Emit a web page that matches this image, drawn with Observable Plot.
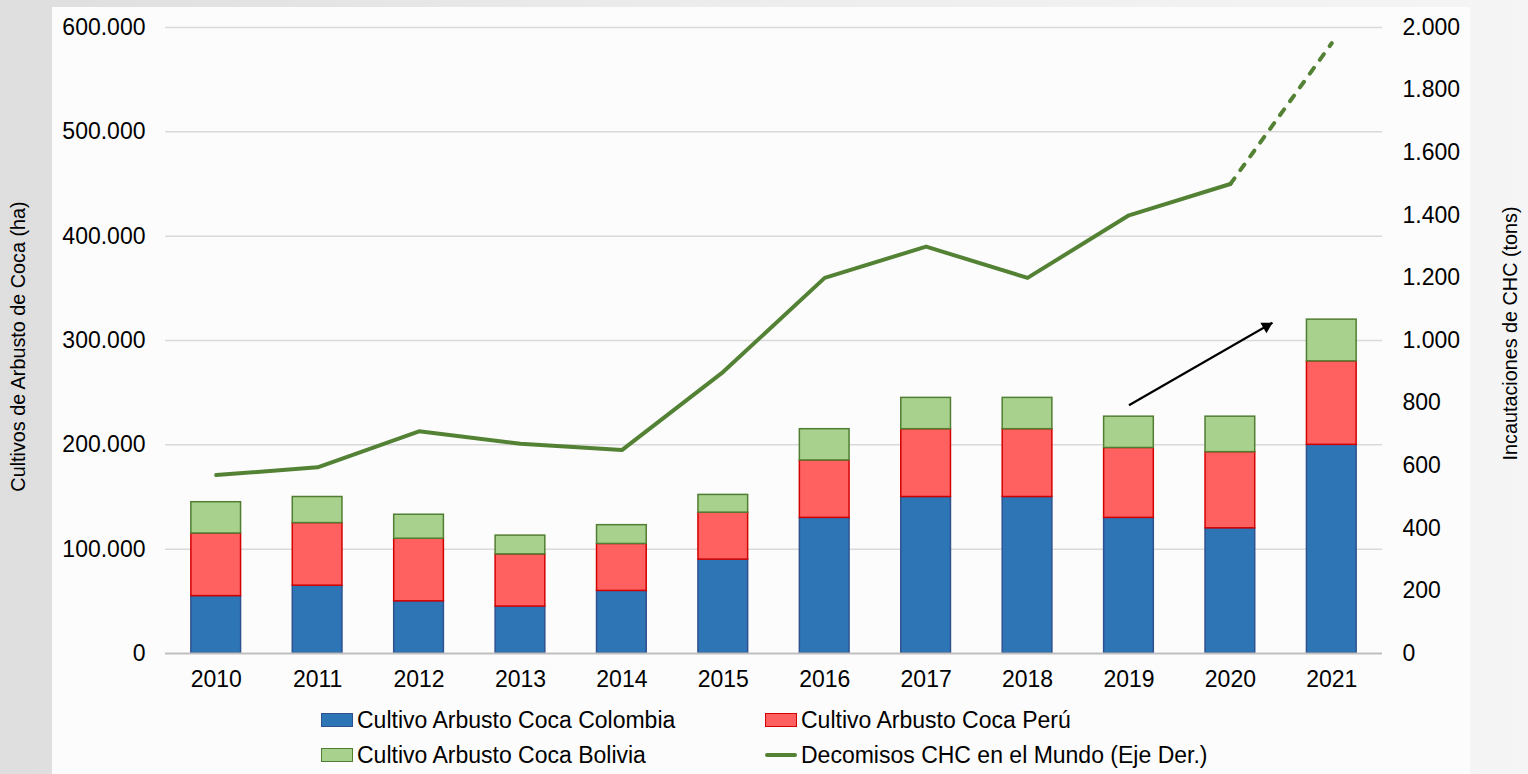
<!DOCTYPE html>
<html>
<head>
<meta charset="utf-8">
<script src="https://cdn.jsdelivr.net/npm/d3@7"></script>
<script src="https://cdn.jsdelivr.net/npm/@observablehq/plot@0.6"></script>
<style>
  html, body { margin: 0; padding: 0; }
  body {
    width: 1528px; height: 774px; overflow: hidden; position: relative;
    background: linear-gradient(90deg, #dedede 0%, #ececec 45%, #f5f5f5 100%);
    font-family: "Liberation Sans", Arial, sans-serif;
  }
  #panel { position: absolute; left: 52px; top: 7px; width: 1418px; height: 780px; background: #fcfcfc; }
  #chart { position: absolute; left: 0; top: 0; }
  #legend { position: absolute; left: 321px; top: 707px; display: grid; grid-template-columns: 444px 444px; row-gap: 9px; font-size: 23px; color: #000; }
  .item { display: flex; align-items: center; height: 26px; white-space: nowrap; }
  .sw { width: 30px; height: 12px; margin-right: 4px; border-width: 1.5px; border-style: solid; }
  .ln { width: 32px; height: 4px; margin-right: 4px; border-radius: 2px; }
</style>
</head>
<body>
<div id="panel"></div>
<div id="chart"></div>
<div id="legend"></div>
<script>
// ---- data ----
const years = [2010, 2011, 2012, 2013, 2014, 2015, 2016, 2017, 2018, 2019, 2020, 2021];
const colombia = [55000, 65000, 50000, 45000, 60000, 90000, 130000, 150000, 150000, 130000, 120000, 200000];
const peru     = [60000, 60000, 60000, 50000, 45000, 45000, 55000, 65000, 65000, 67000, 73000, 80000];
const bolivia  = [30000, 25000, 23000, 18000, 18000, 17000, 30000, 30000, 30000, 30000, 34000, 40000];
const decomisos = [570, 595, 710, 670, 650, 900, 1200, 1300, 1200, 1400, 1500, 1950]; // tons (right axis)
const leftTicks = [0, 100000, 200000, 300000, 400000, 500000, 600000];
const rightTicks = [0, 200, 400, 600, 800, 1000, 1200, 1400, 1600, 1800, 2000];
const seriesNames = ["Cultivo Arbusto Coca Colombia", "Cultivo Arbusto Coca Perú", "Cultivo Arbusto Coca Bolivia", "Decomisos CHC en el Mundo (Eje Der.)"];
const axisTitles = ["Cultivos de Arbusto de Coca (ha)", "Incautaciones de CHC (tons)"];
const arrowFrom = {year: 2019, value: 238000};
const arrowTo = {year: 2020.415, value: 317000};

// ---- styles ----
const fills = ["#2E75B6", "#FF6161", "#A9D18E"];
const strokes = ["#2F528F", "#D40000", "#507E32"];
const lineColor = "#548235";
const ratio = 600000 / 2000; // left / right axis scale

const fmt = d3.formatLocale({decimal: ",", thousands: ".", grouping: [3], currency: ["", ""]}).format(",d");

// stacked rows
const rows = [];
years.forEach((y, i) => {
  let base = 0;
  [colombia[i], peru[i], bolivia[i]].forEach((v, s) => {
    rows.push({year: y, s, y1: base, y2: base + v});
    base += v;
  });
});
const lineData = years.map((y, i) => ({year: y, v: decomisos[i] * ratio}));
const solidPart = lineData.slice(0, 11);
const dashedPart = lineData.slice(10);
const hw = 0.245;

const plot = Plot.plot({
  width: 1528,
  height: 700,
  marginTop: 27,
  marginBottom: 47,
  marginLeft: 165,
  marginRight: 146,
  style: {fontFamily: "'Liberation Sans', Arial, sans-serif", fontSize: "23px", color: "#000", background: "transparent", overflow: "visible"},
  x: {type: "linear", domain: [2009.5, 2021.5]},
  y: {domain: [0, 600000]},
  marks: [
    Plot.ruleY(leftTicks.slice(1), {stroke: "#d9d9d9", strokeWidth: 1.5}),
    Plot.rect(rows, {
      x1: d => d.year - hw, x2: d => d.year + hw, y1: "y1", y2: "y2",
      fill: d => fills[d.s], stroke: d => strokes[d.s], strokeWidth: 1.5
    }),
    Plot.ruleY([0], {stroke: "#bfbfbf", strokeWidth: 2}),
    Plot.line(solidPart, {x: "year", y: "v", stroke: lineColor, strokeWidth: 4, strokeLinejoin: "round", strokeLinecap: "round"}),
    Plot.line(dashedPart, {x: "year", y: "v", stroke: lineColor, strokeWidth: 4, strokeDasharray: "7,10", strokeLinecap: "round"}),
    Plot.link([{a: arrowFrom, b: arrowTo}], {x1: d => d.a.year, y1: d => d.a.value, x2: d => d.b.year, y2: d => d.b.value, stroke: "#000", strokeWidth: 2.2}),
    Plot.dot([arrowTo], {x: "year", y: "value", symbol: "triangle", r: 4.5, fill: "#000", stroke: "none", rotate: 60, dx: -6, dy: 3.5}),
    Plot.axisX(years, {tickSize: 0, tickPadding: 17, tickFormat: d => String(d), label: null}),
    Plot.axisY(leftTicks, {anchor: "left", tickSize: 0, tickPadding: 20, tickFormat: fmt, label: null}),
    Plot.axisY(rightTicks.map(t => t * ratio), {anchor: "right", tickSize: 0, tickPadding: 20, tickFormat: d => fmt(d / ratio), label: null}),
    Plot.text([axisTitles[0]], {text: d => d, frameAnchor: "left", rotate: -90, dx: -147, dy: 6, textAnchor: "middle", fontSize: 19.8}),
    Plot.text([axisTitles[1]], {text: d => d, frameAnchor: "right", rotate: -90, dx: 128, dy: -7, textAnchor: "middle", fontSize: 19.8})
  ]
});
document.getElementById("chart").appendChild(plot);

// legend
const legend = document.getElementById("legend");
[0, 1, 2, 3].forEach(i => {
  const item = document.createElement("div");
  item.className = "item";
  const sw = document.createElement("span");
  if (i < 3) {
    sw.className = "sw";
    sw.style.background = fills[i];
    sw.style.borderColor = strokes[i];
  } else {
    sw.className = "ln";
    sw.style.background = lineColor;
  }
  item.appendChild(sw);
  const t = document.createElement("span");
  t.textContent = seriesNames[i];
  item.appendChild(t);
  legend.appendChild(item);
});
</script>
</body>
</html>
